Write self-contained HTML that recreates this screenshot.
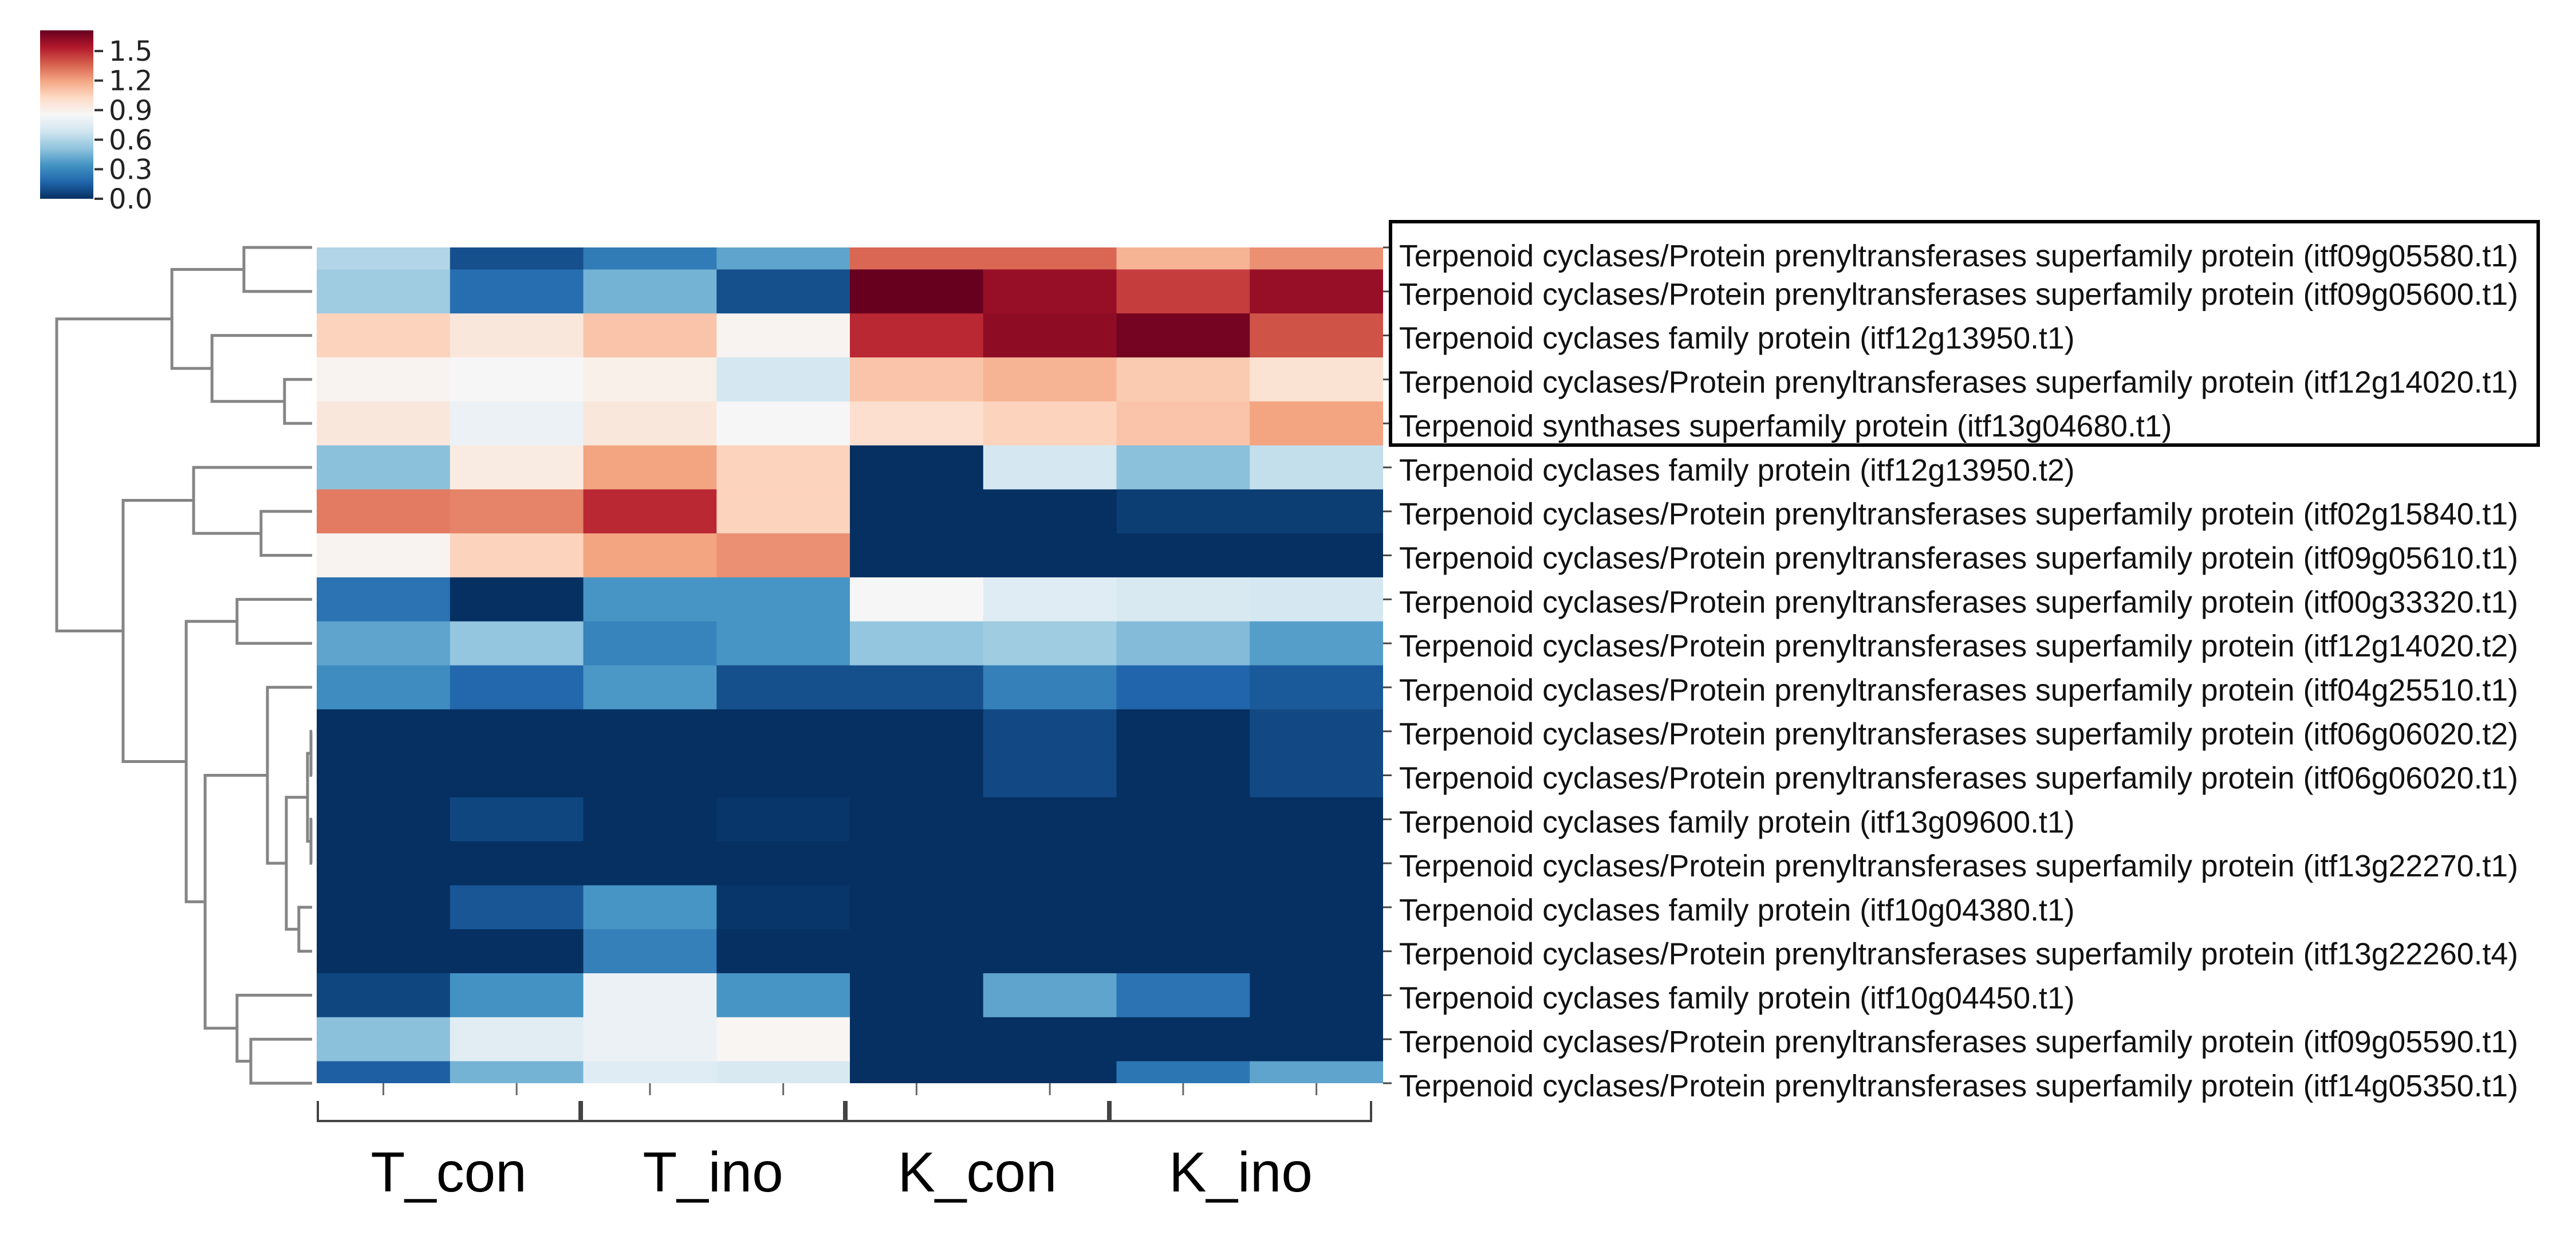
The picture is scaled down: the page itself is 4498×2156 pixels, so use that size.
<!DOCTYPE html>
<html><head><meta charset="utf-8"><style>
html,body{margin:0;padding:0;background:#fff;}
svg{display:block;}
</style></head><body>
<svg id="chart" width="4498" height="2156" viewBox="0 0 4498 2156" xmlns="http://www.w3.org/2000/svg">
<defs>
<linearGradient id="cbgrad" x1="0" y1="1" x2="0" y2="0">
<stop offset="0" stop-color="#053061"/><stop offset="0.1" stop-color="#2166ac"/><stop offset="0.2" stop-color="#4393c3"/><stop offset="0.3" stop-color="#92c5de"/><stop offset="0.4" stop-color="#d1e5f0"/><stop offset="0.5" stop-color="#f7f7f7"/><stop offset="0.6" stop-color="#fddbc7"/><stop offset="0.7" stop-color="#f4a582"/><stop offset="0.8" stop-color="#d6604d"/><stop offset="0.9" stop-color="#b2182b"/><stop offset="1" stop-color="#67001f"/>
</linearGradient>
<clipPath id="hmclip"><rect x="553" y="432" width="1862" height="1459"/></clipPath>
</defs>
<g id="colorbar"></g>
<g id="dendro"></g>
<g id="heat" clip-path="url(#hmclip)"></g>
<g id="rowlabels"></g>
<g id="xaxis"></g>
<rect x="2428" y="387" width="2004" height="390" fill="none" stroke="#000" stroke-width="6"/>
</svg>
<script>
const groups = ["T_con","T_ino","K_con","K_ino"];
const cbTicks = [0.0,0.3,0.6,0.9,1.2,1.5];
const cbTickLabels = ["0.0","0.3","0.6","0.9","1.2","1.5"];
const rowLabels = [
"Terpenoid cyclases/Protein prenyltransferases superfamily protein (itf09g05580.t1)",
"Terpenoid cyclases/Protein prenyltransferases superfamily protein (itf09g05600.t1)",
"Terpenoid cyclases family protein (itf12g13950.t1)",
"Terpenoid cyclases/Protein prenyltransferases superfamily protein (itf12g14020.t1)",
"Terpenoid synthases superfamily protein (itf13g04680.t1)",
"Terpenoid cyclases family protein (itf12g13950.t2)",
"Terpenoid cyclases/Protein prenyltransferases superfamily protein (itf02g15840.t1)",
"Terpenoid cyclases/Protein prenyltransferases superfamily protein (itf09g05610.t1)",
"Terpenoid cyclases/Protein prenyltransferases superfamily protein (itf00g33320.t1)",
"Terpenoid cyclases/Protein prenyltransferases superfamily protein (itf12g14020.t2)",
"Terpenoid cyclases/Protein prenyltransferases superfamily protein (itf04g25510.t1)",
"Terpenoid cyclases/Protein prenyltransferases superfamily protein (itf06g06020.t2)",
"Terpenoid cyclases/Protein prenyltransferases superfamily protein (itf06g06020.t1)",
"Terpenoid cyclases family protein (itf13g09600.t1)",
"Terpenoid cyclases/Protein prenyltransferases superfamily protein (itf13g22270.t1)",
"Terpenoid cyclases family protein (itf10g04380.t1)",
"Terpenoid cyclases/Protein prenyltransferases superfamily protein (itf13g22260.t4)",
"Terpenoid cyclases family protein (itf10g04450.t1)",
"Terpenoid cyclases/Protein prenyltransferases superfamily protein (itf09g05590.t1)",
"Terpenoid cyclases/Protein prenyltransferases superfamily protein (itf14g05350.t1)"
];
const values = [
[0.60,0.10,0.25,0.40,1.35,1.35,1.15,1.25],
[0.55,0.20,0.45,0.10,1.71,1.60,1.45,1.60],
[1.05,0.95,1.10,0.88,1.50,1.62,1.68,1.40],
[0.88,0.85,0.90,0.70,1.10,1.15,1.08,0.98],
[0.95,0.80,0.95,0.86,1.00,1.05,1.10,1.20],
[0.50,0.93,1.20,1.05,0.00,0.70,0.50,0.65],
[1.30,1.28,1.50,1.05,0.00,0.00,0.04,0.04],
[0.88,1.05,1.20,1.25,0.00,0.00,0.00,0.00],
[0.22,0.00,0.35,0.35,0.86,0.75,0.72,0.70],
[0.40,0.52,0.28,0.35,0.52,0.55,0.48,0.38],
[0.32,0.18,0.36,0.10,0.10,0.27,0.17,0.13],
[0.00,0.00,0.00,0.00,0.00,0.08,0.00,0.08],
[0.00,0.00,0.00,0.00,0.00,0.08,0.00,0.08],
[0.00,0.07,0.00,0.02,0.00,0.00,0.00,0.00],
[0.00,0.00,0.00,0.00,0.00,0.00,0.00,0.00],
[0.00,0.12,0.35,0.02,0.00,0.00,0.00,0.00],
[0.00,0.00,0.27,0.00,0.00,0.00,0.00,0.00],
[0.07,0.34,0.80,0.35,0.00,0.40,0.22,0.00],
[0.50,0.76,0.80,0.87,0.00,0.00,0.00,0.00],
[0.15,0.45,0.75,0.72,0.00,0.00,0.23,0.40]
];
// dendrogram merges: [childA, childB, height]; leaves are numbers, nodes are "n<i>"
const merges = [
[0,1,0.267],[3,4,0.108],[2,"n1",0.392],["n0","n2",0.549],
[6,7,0.20],[5,"n4",0.464],[8,9,0.294],
[11,12,0.0045],[13,14,0.0045],["n7","n8",0.018],[15,16,0.052],["n9","n10",0.101],[10,"n11",0.175],
[18,19,0.24],[17,"n13",0.294],["n12","n14",0.419],["n6","n15",0.493],["n5","n16",0.74],["n3","n17",1.0]
];
const vmax = 1.71;
const stops = ["#053061","#2166ac","#4393c3","#92c5de","#d1e5f0","#f7f7f7","#fddbc7","#f4a582","#d6604d","#b2182b","#67001f"];
const NS="http://www.w3.org/2000/svg";
function mk(tag,attrs,parent){const e=document.createElementNS(NS,tag);for(const k in attrs)e.setAttribute(k,attrs[k]);parent.appendChild(e);return e;}
function hex(h){return [1,3,5].map(i=>parseInt(h.substr(i,2),16));}
function cmap(v){let t=Math.max(0,Math.min(1,v/vmax))*10;const i=Math.min(9,Math.floor(t));const f=t-i;const a=hex(stops[i]),b=hex(stops[i+1]);return "rgb("+a.map((c,k)=>Math.round(c+(b[k]-c)*f)).join(",")+")";}
const X0=553,X1=2415,Y0=432,RH=76.79;
const CW=(X1-X0)/8;
const xs=c=>X0+c*CW;
const ys=r=>Y0+r*RH;
const dx=h=>545-h*446;

// heatmap
const heat=document.getElementById('heat');
values.forEach((row,r)=>row.forEach((v,c)=>{
 const e=mk('rect',{x:xs(c),y:ys(r)-RH/2,width:CW+0.6,height:RH+0.6,fill:cmap(v)},heat);
 
 
}));

// colorbar
const cb=document.getElementById('colorbar');
const CBY0=347,CBY1=53;
const cbr=mk('rect',{x:70,y:CBY1,width:93,height:CBY0-CBY1,fill:"url(#cbgrad)"},cb);


cbTicks.forEach((v,i)=>{
 const y=CBY0-v/vmax*(CBY0-CBY1);
 mk('line',{x1:165,x2:180,y1:y,y2:y,stroke:"#333","stroke-width":4},cb);
 const t=mk('text',{x:190,y:y+17,"font-family":"DejaVu Sans, sans-serif","font-size":48,fill:"#222"},cb);
 
 
 t.textContent=cbTickLabels[i];
});

// dendrogram
const dg=document.getElementById('dendro');
const pos={};
function nodeInfo(k){if(typeof k==="number")return {y:ys(k),x:545};return pos[k];}
merges.forEach((m,i)=>{
 const a=nodeInfo(m[0]),b=nodeInfo(m[1]);const hx=dx(m[2]);
 const p=mk('path',{d:`M${a.x},${a.y}H${hx}V${b.y}H${b.x}`,fill:"none",stroke:"#858585","stroke-width":5},dg);
 
 
 pos["n"+i]={x:hx,y:(a.y+b.y)/2};
});

// row labels
const rl=document.getElementById('rowlabels');
const texts=[];
rowLabels.forEach((s,r)=>{
 const y=ys(r);
 mk('line',{x1:2415,x2:2430,y1:y,y2:y,stroke:"#444","stroke-width":3},rl);
 const t=mk('text',{x:2443,y:y+(r===0?14:4)+19,"font-family":"Liberation Sans, sans-serif","font-size":54,fill:"#111"},rl);
 
 
 t.textContent=s; texts.push(t);
});
const f=1954/texts[0].getComputedTextLength();
texts.forEach(t=>{const L=t.getComputedTextLength();t.setAttribute('textLength',(L*f).toFixed(1));t.setAttribute('lengthAdjust','spacingAndGlyphs');});

// x axis
const xa=document.getElementById('xaxis');
for(let c=0;c<8;c++){const x=xs(c+0.5);mk('line',{x1:x,x2:x,y1:1891,y2:1912,stroke:"#666","stroke-width":3},xa);}
const bx=[553,1014,1476,1937,2396];
groups.forEach((g,i)=>{
 const p=mk('path',{d:`M${bx[i]+2},1922V1957H${bx[i+1]-2}V1922`,fill:"none",stroke:"#444","stroke-width":4},xa);
 
 
 const t=mk('text',{x:(bx[i]+bx[i+1])/2,y:2080,"text-anchor":"middle","font-family":"Liberation Sans, sans-serif","font-size":98,fill:"#000"},xa);
 
 
 t.textContent=g;
});
</script>
</body></html>
